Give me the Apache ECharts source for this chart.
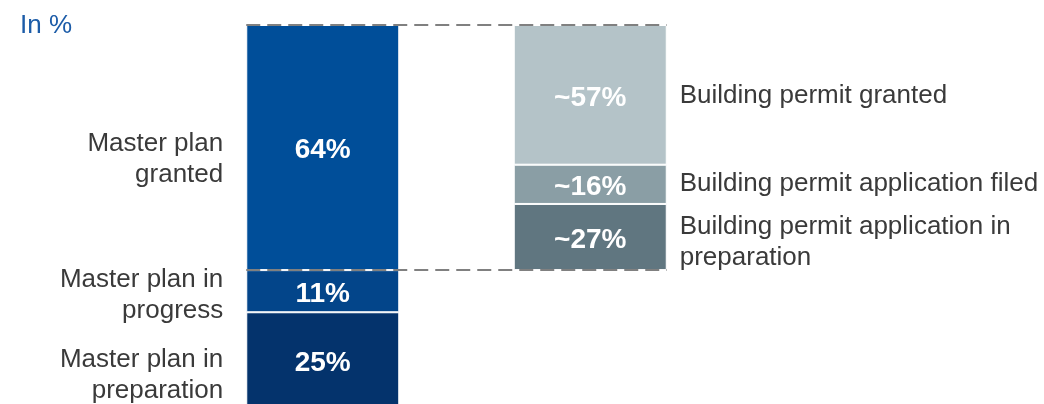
<!DOCTYPE html>
<html>
<head>
<meta charset="utf-8">
<script src="https://cdn.jsdelivr.net/npm/echarts@6/dist/echarts.min.js"></script>
<style>
  html, body { margin: 0; padding: 0; background: #fff; overflow: hidden; }
  #chart { width: 1044px; height: 408px; }
</style>
</head>
<body>
<div id="chart"></div>
<script>
// Two stacked columns: master plan status, and the building permit split of "granted"
const categories = ['Master plan', 'Building permit'];

// Master plan status, bottom to top
const masterNames = ['Master plan in\npreparation', 'Master plan in\nprogress', 'Master plan\ngranted'];
const masterValues = [25, 11, 64];

// Building permit status within the granted master plans, bottom to top
const permitNames = ['Building permit application in\npreparation', 'Building permit application filed', 'Building permit granted'];
const permitValues = [27, 16, 57];

// Styling
const masterColors = ['#04336c', '#03458a', '#004e99'];
const permitColors = ['#607680', '#8a9ea5', '#b4c3c8'];
const masterNameNudge = [15, 4.5, 12];
const permitNameNudge = [5.5, 0, 0.5];
const FONT = '"Liberation Sans", Arial, Helvetica, sans-serif';
const TEXT = '#3a3a3a';
const BAR_W = 153;

// The permit column spans exactly the "granted" segment of the master column:
// its 0..100 maps onto the master axis' (below-granted)..100 range.
const belowGranted = masterValues[0] + masterValues[1];
const permitAxisMin = -belowGranted / (masterValues[2] / 100);

const chart = echarts.init(document.getElementById('chart'), null, { renderer: 'canvas' });

const valueLabel = (fmt) => ({
  show: true,
  position: 'inside',
  offset: [0, 3],
  formatter: fmt,
  color: '#fff',
  fontFamily: FONT,
  fontSize: 28,
  fontWeight: 'bold'
});

const series = [];
masterValues.forEach((v, i) => {
  series.push({
    type: 'bar',
    stack: 'master',
    yAxisIndex: 0,
    barWidth: BAR_W,
    barGap: '-100%',
    data: [v, '-'],
    itemStyle: { color: masterColors[i], borderColor: '#fff', borderWidth: 1 },
    label: valueLabel('{c}%')
  });
});
permitValues.forEach((v, i) => {
  series.push({
    type: 'bar',
    stack: 'permit',
    yAxisIndex: 1,
    barWidth: BAR_W,
    barGap: '-100%',
    data: ['-', v],
    itemStyle: { color: permitColors[i], borderColor: '#fff', borderWidth: 1 },
    label: valueLabel('~{c}%')
  });
});

chart.setOption({
  animation: false,
  title: {
    text: 'In %',
    left: 20,
    top: 13,
    padding: 0,
    textStyle: { color: '#1c5ca8', fontFamily: FONT, fontSize: 26, fontWeight: 'normal' }
  },
  grid: { left: 189, width: 535, top: 25, bottom: 0 },
  xAxis: { type: 'category', data: categories, show: false },
  yAxis: [
    { type: 'value', min: 0, max: 100, show: false },
    { type: 'value', min: permitAxisMin, max: 100, show: false }
  ],
  series: series
});

// Side names and connector lines, placed through the chart's own axes
const half = BAR_W / 2;
const leftCenter = chart.convertToPixel({ xAxisIndex: 0 }, categories[0]);
const rightCenter = chart.convertToPixel({ xAxisIndex: 0 }, categories[1]);
const leftEdge = leftCenter - half;
const rightEdge = rightCenter + half;

const graphics = [];
const textEl = (x, y, text, align) => ({
  type: 'text',
  x: x,
  y: y,
  z: 20,
  style: {
    text: text,
    fill: TEXT,
    font: '26px ' + FONT,
    align: align,
    textAlign: align,
    verticalAlign: 'middle',
    textVerticalAlign: 'middle',
    lineHeight: 31
  }
});

let acc = 0;
masterValues.forEach((v, i) => {
  const y = chart.convertToPixel({ yAxisIndex: 0 }, acc + v / 2);
  graphics.push(textEl(leftEdge - 23, y + masterNameNudge[i], masterNames[i], 'right'));
  acc += v;
});
acc = 0;
permitValues.forEach((v, i) => {
  const y = chart.convertToPixel({ yAxisIndex: 1 }, acc + v / 2);
  graphics.push(textEl(rightEdge + 13, y + permitNameNudge[i], permitNames[i], 'left'));
  acc += v;
});

const yTop = chart.convertToPixel({ yAxisIndex: 0 }, 100);
const yBase = chart.convertToPixel({ yAxisIndex: 0 }, belowGranted);
[yTop, yBase].forEach((y) => {
  graphics.push({
    type: 'line',
    z: 30,
    shape: { x1: leftEdge, y1: y, x2: rightEdge, y2: y },
    style: { stroke: '#808080', lineWidth: 2, lineDash: [14, 7] }
  });
});

chart.setOption({ graphic: graphics });
</script>
</body>
</html>
